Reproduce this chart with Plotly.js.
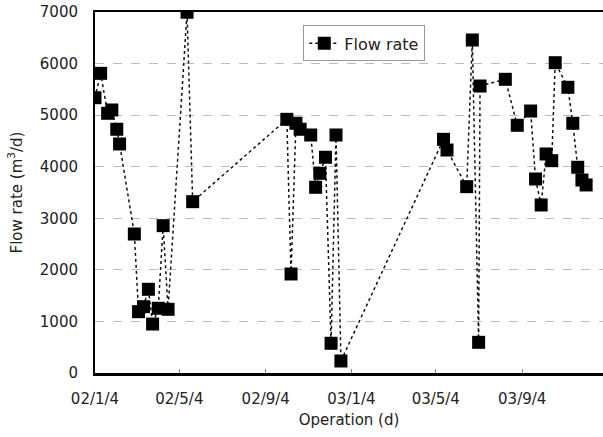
<!DOCTYPE html>
<html>
<head>
<meta charset="utf-8">
<script src="https://cdn.plot.ly/plotly-3.0.1.min.js"></script>
<style>html,body{margin:0;padding:0;background:#fff;}#chart{width:603px;height:437px;}</style>
</head>
<body>
<div id="chart"></div>
<script>
const dates = [
  "2002-01-04","2002-01-12","2002-01-22","2002-01-28","2002-02-04","2002-02-08",
  "2002-03-01","2002-03-07","2002-03-14","2002-03-21","2002-03-27","2002-04-04",
  "2002-04-11","2002-04-18","2002-05-15","2002-05-23",
  "2002-10-04","2002-10-10","2002-10-17","2002-10-23","2002-11-07","2002-11-14",
  "2002-11-20","2002-11-28","2002-12-06","2002-12-13","2002-12-20",
  "2003-05-15","2003-05-20","2003-06-17","2003-06-25","2003-07-04","2003-07-06",
  "2003-08-11","2003-08-28","2003-09-16","2003-09-23","2003-10-01","2003-10-08",
  "2003-10-16","2003-10-21","2003-11-08","2003-11-15","2003-11-22","2003-11-28","2003-12-04"
];
const flowRate = [
  5338,5811,5036,5100,4726,4441,
  2695,1189,1286,1623,950,1255,
  2857,1235,6995,3322,
  4919,1920,4842,4726,4615,3601,
  3872,4183,576,4615,233,
  4531,4324,3613,6457,595,5565,
  5695,4803,5080,3762,3258,4247,
  4117,6017,5540,4842,3989,3742,3646
];
const tickDates = ["2002-01-04","2002-05-04","2002-09-04","2003-01-04","2003-05-04","2003-09-04"];
const tickLabels = ["02/1/4","02/5/4","02/9/4","03/1/4","03/5/4","03/9/4"];
const yTicks = [0,1000,2000,3000,4000,5000,6000,7000];

const font = {family: "DejaVu Sans, Liberation Sans, sans-serif", size: 15, color: "#222"};
const legendFont = {family: "DejaVu Sans, Liberation Sans, sans-serif", size: 16, color: "#222"};

Plotly.newPlot("chart", [{
  x: dates, y: flowRate, type: "scatter", mode: "lines+markers", name: "Flow rate",
  line: {color: "#111", width: 1.5, dash: "dot"},
  marker: {symbol: "square", size: 13, color: "#000"}
}], {
  width: 603, height: 437,
  margin: {l: 95, r: 0, t: 12, b: 64},
  paper_bgcolor: "#fff", plot_bgcolor: "#fff",
  font: font,
  showlegend: true,
  legend: {x: 0.41, y: 0.963, xanchor: "left", yanchor: "top", bgcolor: "#fff",
           bordercolor: "#999", borderwidth: 1, font: legendFont, tracegroupgap: 0},
  xaxis: {
    type: "date", range: ["2002-01-04", "2003-12-28"],
    tickvals: tickDates, ticktext: tickLabels,
    showgrid: false, zeroline: false,
    showline: true, linecolor: "#000", linewidth: 2.5, mirror: true,
    ticks: "inside", ticklen: 4, tickcolor: "#888",
    ticklabelstandoff: 10,
    tickfont: font,
    title: {text: "Operation (d)", font: font, standoff: 8}
  },
  yaxis: {
    range: [0, 7000], tickvals: yTicks,
    showgrid: true, gridcolor: "#bbb", griddash: "dash", gridwidth: 1,
    zeroline: false, showline: true, linecolor: "#000", linewidth: 2, mirror: false,
    ticks: "", tickfont: font, ticklabelstandoff: 12,
    title: {text: "Flow rate (m<sup>3</sup>/d)", font: font, standoff: 14}
  }
}, {displayModeBar: false, staticPlot: true});
</script>
</body>
</html>
